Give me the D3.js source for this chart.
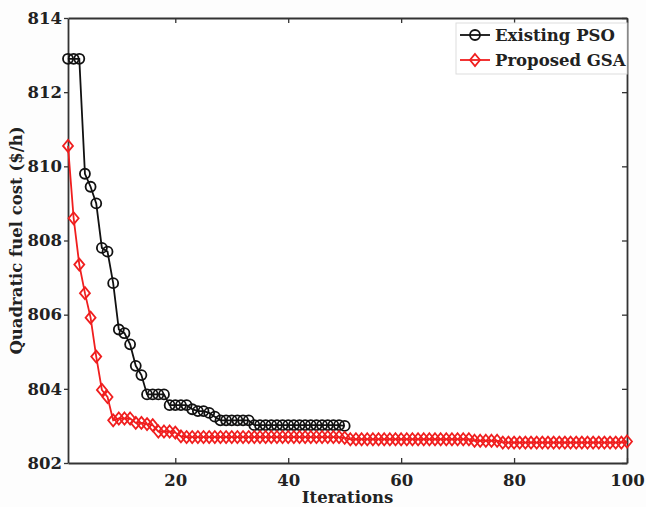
<!DOCTYPE html>
<html>
<head>
<meta charset="utf-8">
<script src="https://cdn.jsdelivr.net/npm/d3@7"></script>
<style>
  body { margin: 0; background: #fdfdfd; }
  svg { display: block; }
  text { font-family: "DejaVu Serif", serif; font-weight: bold; fill: #222; }
</style>
</head>
<body>
<figure id="chart" style="margin:0"></figure>
<script>
// iterations 1..50 for PSO, 1..100 for GSA
const psoCost = [
  812.9, 812.9, 812.9, 809.8, 809.45, 809.0, 807.8, 807.7, 806.85, 805.6,
  805.5, 805.2, 804.62, 804.37, 803.85, 803.85, 803.85, 803.85, 803.56, 803.56,
  803.56, 803.56, 803.45, 803.4, 803.4, 803.35, 803.25, 803.15, 803.15, 803.15,
  803.15, 803.15, 803.15, 803.02, 803.02, 803.02, 803.02, 803.02, 803.02, 803.02,
  803.02, 803.02, 803.02, 803.02, 803.02, 803.02, 803.02, 803.02, 803.02, 803.0
];
const gsaCost = [
  810.55, 808.6, 807.35, 806.58, 805.92, 804.87, 803.97, 803.78, 803.15, 803.2,
  803.2, 803.2, 803.08, 803.08, 803.05, 803.02, 802.85, 802.85, 802.85, 802.82,
  802.72, 802.7, 802.7, 802.7, 802.7, 802.7, 802.7, 802.7, 802.7, 802.7,
  802.7, 802.7, 802.7, 802.7, 802.7, 802.7, 802.7, 802.7, 802.7, 802.7,
  802.7, 802.7, 802.7, 802.7, 802.7, 802.7, 802.7, 802.7, 802.7, 802.68,
  802.64, 802.64, 802.64, 802.64, 802.64, 802.64, 802.64, 802.64, 802.64, 802.64,
  802.64, 802.64, 802.64, 802.64, 802.64, 802.64, 802.64, 802.64, 802.64, 802.64,
  802.64, 802.64, 802.6, 802.6, 802.6, 802.6, 802.6, 802.55, 802.55, 802.55,
  802.55, 802.55, 802.55, 802.55, 802.55, 802.55, 802.55, 802.55, 802.55, 802.55,
  802.55, 802.55, 802.55, 802.55, 802.55, 802.55, 802.55, 802.55, 802.55, 802.58
];
const xTicks = [20, 40, 60, 80, 100];
const yTicks = [802, 804, 806, 808, 810, 812, 814];
const seriesNames = ["Existing PSO", "Proposed GSA"];

const W = 646, H = 507;
const margin = { top: 18, right: 19, bottom: 44, left: 68 };
const width = W - margin.left - margin.right;
const height = H - margin.top - margin.bottom;

const svg = d3.select("figure#chart")
  .append("svg")
  .attr("width", W)
  .attr("height", H);

const g = svg.append("g")
  .attr("transform", "translate(" + margin.left + "," + margin.top + ")");

const x = d3.scaleLinear().domain([1, 100]).range([0, width]);
const y = d3.scaleLinear().domain([802, 814]).range([height, 0]);

g.append("rect")
  .attr("width", width)
  .attr("height", height)
  .attr("fill", "#fff");

// bottom axis, ticks inward
const xAxis = g.append("g")
  .attr("transform", "translate(0," + height + ")")
  .call(d3.axisBottom(x).tickValues(xTicks).tickSizeInner(-5).tickSizeOuter(0).tickPadding(11));
xAxis.selectAll("text").style("font-size", "16.5px");

// top mirror ticks
g.append("g")
  .call(d3.axisTop(x).tickValues(xTicks).tickSizeInner(-5).tickSizeOuter(0).tickFormat(""));

// left axis
const yAxis = g.append("g")
  .call(d3.axisLeft(y).tickValues(yTicks).tickSizeInner(4).tickSizeOuter(0).tickPadding(2));
yAxis.selectAll("text").style("font-size", "16.5px");

// right mirror ticks
g.append("g")
  .attr("transform", "translate(" + width + ",0)")
  .call(d3.axisRight(y).tickValues(yTicks).tickSizeInner(-5).tickSizeOuter(0).tickFormat(""));

g.selectAll(".domain").attr("stroke", "#333").attr("stroke-width", 1.8);
g.selectAll(".tick line").attr("stroke", "#333").attr("stroke-width", 1.3);

// axis labels
svg.append("text")
  .attr("x", margin.left + width / 2)
  .attr("y", H - 4)
  .attr("text-anchor", "middle")
  .style("font-size", "16.5px")
  .text("Iterations");

svg.append("text")
  .attr("transform", "translate(22," + (margin.top + height / 2) + ") rotate(-90)")
  .attr("text-anchor", "middle")
  .style("font-size", "16.5px")
  .text("Quadratic fuel cost ($/h)");

const line = d3.line()
  .x((d, i) => x(i + 1))
  .y(d => y(d));

const diamond = "M0,-6L5,0L0,6L-5,0Z";
const black = "#111", red = "#f01e1e";

// PSO
g.append("path")
  .datum(psoCost)
  .attr("d", line)
  .attr("fill", "none")
  .attr("stroke", black)
  .attr("stroke-width", 1.8);
g.selectAll(".pso")
  .data(psoCost)
  .enter()
  .append("circle")
  .attr("class", "pso")
  .attr("cx", (d, i) => x(i + 1))
  .attr("cy", d => y(d))
  .attr("r", 5)
  .attr("fill", "none")
  .attr("stroke", black)
  .attr("stroke-width", 1.8);

// GSA
g.append("path")
  .datum(gsaCost)
  .attr("d", line)
  .attr("fill", "none")
  .attr("stroke", red)
  .attr("stroke-width", 1.8);
g.selectAll(".gsa")
  .data(gsaCost)
  .enter()
  .append("path")
  .attr("class", "gsa")
  .attr("d", diamond)
  .attr("transform", (d, i) => "translate(" + x(i + 1) + "," + y(d) + ")")
  .attr("fill", "none")
  .attr("stroke", red)
  .attr("stroke-width", 1.8);

// legend
const legend = svg.append("g").attr("transform", "translate(456,23)");
legend.append("rect")
  .attr("width", 171)
  .attr("height", 51)
  .attr("fill", "#fff")
  .attr("stroke", "#ddd");
const colors = [black, red];
seriesNames.forEach((name, k) => {
  const row = legend.append("g").attr("transform", "translate(0," + (12 + k * 25) + ")");
  row.append("line")
    .attr("x1", 4).attr("x2", 34)
    .attr("stroke", colors[k]).attr("stroke-width", 1.8);
  if (k === 0) {
    row.append("circle").attr("cx", 19).attr("r", 5)
      .attr("fill", "none").attr("stroke", colors[k]).attr("stroke-width", 1.8);
  } else {
    row.append("path").attr("d", diamond).attr("transform", "translate(19,0)")
      .attr("fill", "none").attr("stroke", colors[k]).attr("stroke-width", 1.8);
  }
  row.append("text")
    .attr("x", 39)
    .attr("dy", "0.35em")
    .style("font-size", "16.5px")
    .text(name);
});
</script>
</body>
</html>
